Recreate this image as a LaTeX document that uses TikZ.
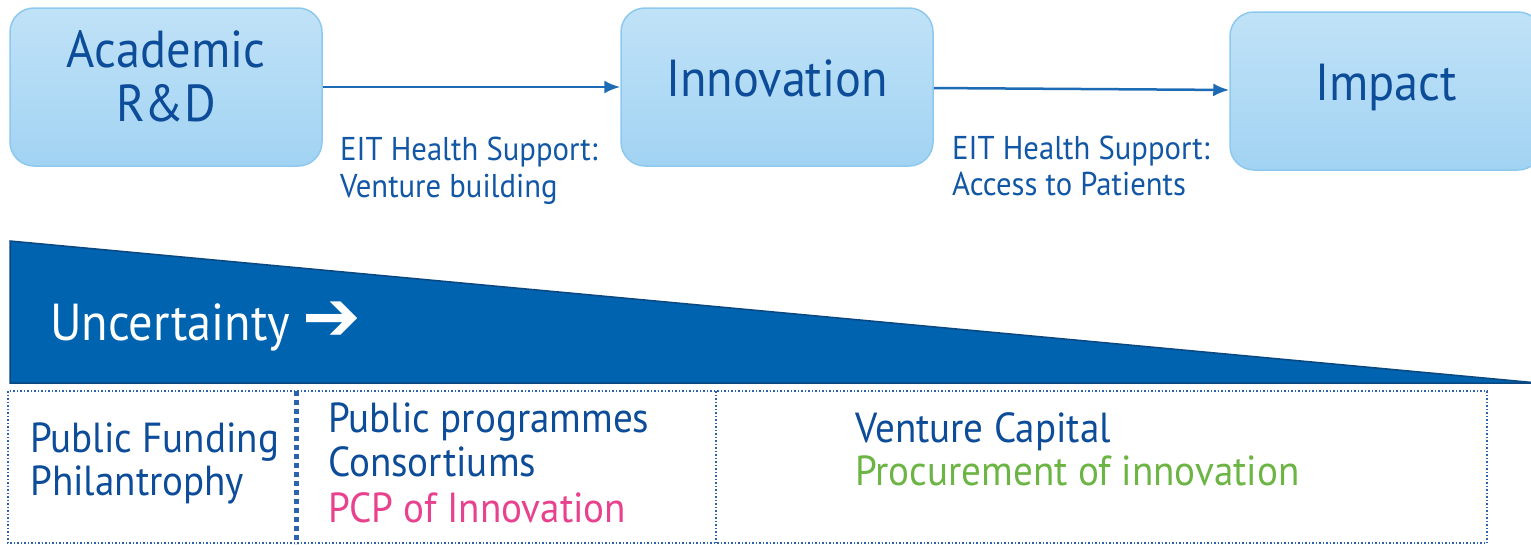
\documentclass[tikz,border=0pt]{standalone}
\usepackage{fontspec}
\setmainfont[FakeStretch=0.93]{PT Sans}
\newfontfamily\symfont{DejaVu Sans}
\usetikzlibrary{arrows.meta,positioning}
\definecolor{boxtop}{HTML}{C0E2F7}
\definecolor{boxbot}{HTML}{A2D3F3}
\definecolor{boxedge}{HTML}{8DC9EE}
\definecolor{stagetext}{HTML}{0D4C99}
\definecolor{notetext}{HTML}{1257A5}
\definecolor{flowblue}{HTML}{1E6BB5}
\definecolor{wedgeblue}{HTML}{0063AF}
\definecolor{wedgeedge}{HTML}{0B4780}
\definecolor{dotblue}{HTML}{2B63AE}
\definecolor{pcppink}{HTML}{E8428E}
\definecolor{procgreen}{HTML}{6CB544}
\tikzset{
  stagebox/.style={draw=boxedge, line width=1.5pt, rounded corners=24pt, top color=boxtop, bottom color=boxbot,
    minimum width=312pt, minimum height=158pt, inner sep=0pt},
  stagelabel/.style={text=stagetext, align=center, inner sep=0pt, text depth=0pt,
    font=\fontsize{52}{54}\selectfont},
  flow/.style={draw=flowblue, line width=2.5pt, -{Latex[length=16pt,width=13pt]}},
  note/.style={anchor=base west, inner sep=0pt, text=notetext, font=\fontsize{33}{37}\selectfont},
  fund/.style={anchor=base west, inner sep=0pt, text=stagetext, font=\fontsize{42}{45}\selectfont},
}
\begin{document}
\begin{tikzpicture}[x=1pt, y=-1pt]
  \useasboundingbox (0,0) rectangle (1531,544);
  \clip (0,0) rectangle (1531,544);
  % stages
  \node[stagebox] (acad) at (166,87) {};
  \node[stagebox] (innov) at (777,87) {};
  \node[stagebox] (impact) at (1386,91) {};
  \node[stagelabel] (acadtxt) at ([yshift=11pt]acad.center) {Academic\\R\&D};
  \node[stagelabel] (innovtxt) at ([yshift=9pt]innov.center) {Innovation};
  \node[stagelabel] (impacttxt) at ([yshift=9pt]impact.center) {Impact};
  \draw[flow] (acad) -- (innov);
  \draw[flow] (innov) -- (impact);
  \node[note] (sup1) at (340,160) {EIT Health Support:};
  \node[note] (ven) at (340,197) {Venture building};
  \node[note] (sup2) at (952,159) {EIT Health Support:};
  \node[note] (acc) at (952,195) {Access to Patients};
  % uncertainty wedge
  \filldraw[fill=wedgeblue, draw=wedgeedge, line width=1.5pt] (10,241) -- (1538,383) -- (10,383) -- cycle;
  \node[anchor=base west, inner sep=0pt, text=white, font=\fontsize{52}{56}\selectfont] (unc) at (50,340)
    {Uncertainty {\symfont\fontsize{70}{70}\selectfont ➔}};
  % funding table
  \draw[dotblue, line width=1.5pt, dash pattern=on 1.5pt off 2pt] (8,391) rectangle (1487,543);
  \draw[dotblue, line width=5pt, dash pattern=on 5pt off 4pt] (296,391) -- (296,544);
  \draw[dotblue, line width=1.5pt, dash pattern=on 1.5pt off 2pt] (716,391) -- (716,544);
  \node[fund] (pubf) at (30,452) {Public Funding};
  \node[fund] (phil) at (30,495) {Philantrophy};
  \node[fund] (pubp) at (328,432) {Public programmes};
  \node[fund] (cons) at (328,476) {Consortiums};
  \node[fund, text=pcppink] (pcp) at (328,522) {PCP of Innovation};
  \node[fund] (vc) at (855,442) {Venture Capital};
  \node[fund, text=procgreen] (proc) at (855,485) {Procurement of innovation};
\end{tikzpicture}
\end{document}
